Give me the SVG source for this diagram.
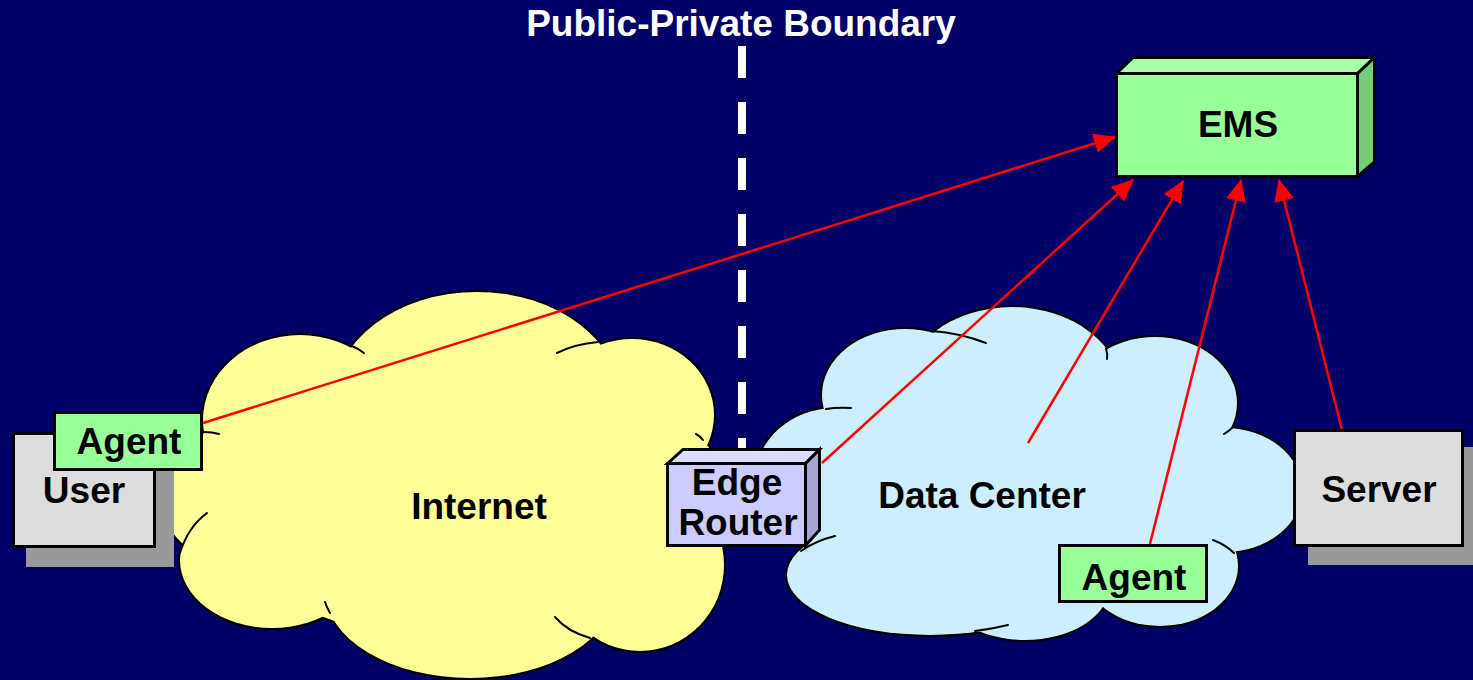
<svg xmlns="http://www.w3.org/2000/svg" xmlns:xlink="http://www.w3.org/1999/xlink" width="1473" height="680" viewBox="0 0 1473 680">
  <style>
    .lbl { font-family: "Liberation Sans", Arial, sans-serif; font-weight: bold; font-size: 37px; text-anchor: middle; fill: #000000; }
    .title { fill: #ffffff; }
    .box { stroke: #000000; stroke-width: 3; stroke-linejoin: miter; }
    .tick { fill: none; stroke: #000000; stroke-width: 2; stroke-linecap: round; }
    .link { fill: none; stroke: #ff0000; stroke-width: 2.5; marker-end: url(#arrow); }
  </style>
  <defs>
    <marker id="arrow" markerUnits="userSpaceOnUse" markerWidth="24" markerHeight="22" refX="21" refY="10" orient="auto">
      <path d="M0,0 L22,10 L0,20 z" fill="#ff0000"/>
    </marker>
    <!-- lobes of the two clouds; outline = outer half of a stroked union -->
    <g id="inet-lobes">
      <ellipse cx="300" cy="420" rx="97" ry="85"/>
      <ellipse cx="477" cy="402" rx="145" ry="110"/>
      <ellipse cx="632" cy="415" rx="82" ry="76"/>
      <ellipse cx="650" cy="492" rx="75" ry="72"/>
      <ellipse cx="640" cy="565" rx="84" ry="86"/>
      <ellipse cx="470" cy="590" rx="145" ry="88"/>
      <ellipse cx="272" cy="560" rx="92" ry="68"/>
      <ellipse cx="235" cy="495" rx="75" ry="68"/>
      <ellipse cx="450" cy="500" rx="230" ry="140"/>
    </g>
    <g id="dc-lobes">
      <ellipse cx="835" cy="480" rx="80" ry="72"/>
      <ellipse cx="905" cy="395" rx="83" ry="66"/>
      <ellipse cx="1012" cy="392" rx="110" ry="85"/>
      <ellipse cx="1155" cy="403" rx="82" ry="66"/>
      <ellipse cx="1225" cy="490" rx="77" ry="62"/>
      <ellipse cx="1160" cy="566" rx="78" ry="60"/>
      <ellipse cx="1025" cy="585" rx="85" ry="55"/>
      <ellipse cx="930" cy="575" rx="143" ry="60"/>
      <ellipse cx="1020" cy="480" rx="200" ry="120"/>
    </g>
  </defs>

  <rect x="0" y="0" width="1473" height="680" fill="#000066"/>

  <g id="boundary">
    <text class="lbl title" x="741" y="36">Public-Private Boundary</text>
    <line x1="742" y1="46" x2="742" y2="470" stroke="#ffffff" stroke-width="8" stroke-dasharray="32 24"/>
  </g>

  <g id="internet">
    <use xlink:href="#inet-lobes" fill="#ffff99" stroke="#000000" stroke-width="4"/>
    <use xlink:href="#inet-lobes" fill="#ffff99" stroke="none"/>
    <path class="tick" d="M204 432 Q212 432 219 434"/>
    <path class="tick" d="M352 346 Q359 349 364 353"/>
    <path class="tick" d="M557 353 Q575 344 598 342"/>
    <path class="tick" d="M696 434 Q700 436 703 440"/>
    <path class="tick" d="M555 617 Q568 632 590 638"/>
    <path class="tick" d="M325 602 Q327 608 330 613"/>
    <path class="tick" d="M180 553 Q188 527 207 513"/>
    <text class="lbl" x="479" y="519">Internet</text>
  </g>

  <g id="data-center">
    <use xlink:href="#dc-lobes" fill="#cceeff" stroke="#000000" stroke-width="4"/>
    <use xlink:href="#dc-lobes" fill="#cceeff" stroke="none"/>
    <path class="tick" d="M826 409 Q838 407 851 408"/>
    <path class="tick" d="M932 331 Q960 333 986 343"/>
    <path class="tick" d="M1106 349 Q1108 354 1107 359"/>
    <path class="tick" d="M1224 434 Q1229 431 1232 428"/>
    <path class="tick" d="M1213 540 Q1226 545 1234 553"/>
    <path class="tick" d="M975 631 Q992 629 1008 625"/>
    <path class="tick" d="M801 551 Q815 541 835 536"/>
    <text class="lbl" x="982" y="508">Data Center</text>
  </g>

  <g id="connectors">
    <path class="link" d="M203 423 L1115 137"/>
    <path class="link" d="M822 463 L1133 180"/>
    <path class="link" d="M1028 443 L1183 181"/>
    <path class="link" d="M1150 544 L1241 180"/>
    <path class="link" d="M1342 430 L1279 180"/>
  </g>

  <g id="user">
    <rect x="26" y="452" width="148" height="115" fill="#999999"/>
    <rect class="box" x="13.5" y="433.5" width="141" height="113" fill="#dddddd"/>
    <text class="lbl" x="84" y="503">User</text>
  </g>

  <g id="user-agent">
    <rect class="box" x="54.5" y="412.5" width="147" height="57" fill="#99ff99"/>
    <text class="lbl" x="129" y="454">Agent</text>
  </g>

  <g id="edge-router">
    <polygon class="box" points="667.5,463.5 683,449.5 819.5,449.5 805.5,463.5" fill="#dcdcff"/>
    <polygon class="box" points="805.5,463.5 819.5,449.5 819.5,530 805.5,545.5" fill="#a6a6d2"/>
    <rect class="box" x="667.5" y="463.5" width="138" height="82" fill="#ccccff"/>
    <text class="lbl" x="737" y="495">Edge</text>
    <text class="lbl" x="738" y="535">Router</text>
  </g>

  <g id="ems">
    <polygon class="box" points="1116.5,73.5 1133,57.5 1374.5,57.5 1357.5,73.5" fill="#aaffaa"/>
    <polygon class="box" points="1357.5,73.5 1374.5,57.5 1374.5,162 1357.5,176.5" fill="#77cc77"/>
    <rect class="box" x="1116.5" y="73.5" width="241" height="103" fill="#99ff99"/>
    <text class="lbl" x="1238" y="137">EMS</text>
  </g>

  <g id="dc-agent">
    <rect class="box" x="1059.5" y="545.5" width="147" height="56" fill="#99ff99"/>
    <text class="lbl" x="1134" y="590">Agent</text>
  </g>

  <g id="server">
    <rect x="1308" y="447" width="171" height="118" fill="#999999"/>
    <rect class="box" x="1294.5" y="430.5" width="168" height="115" fill="#dddddd"/>
    <text class="lbl" x="1379" y="502">Server</text>
  </g>
</svg>
